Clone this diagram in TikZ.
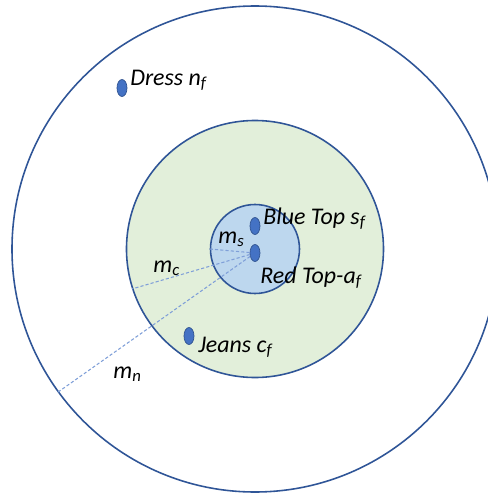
\documentclass[tikz,border=0pt]{standalone}
\usepackage{fontspec}
\setmainfont{Carlito}
\usetikzlibrary{shapes.geometric}

\definecolor{ringblue}{HTML}{2F5597}
\definecolor{ringgreen}{HTML}{E2EFDA}
\definecolor{ringsky}{HTML}{BDD7EE}
\definecolor{dotblue}{HTML}{4472C4}
\definecolor{dotedge}{HTML}{2F528F}
\definecolor{dashblue}{HTML}{7F9FD8}

\begin{document}
\begin{tikzpicture}[
    ring/.style={circle,draw=ringblue,line width=0.9pt,inner sep=0pt},
    item/.style={ellipse,fill=dotblue,draw=dotedge,line width=0.4pt,
        minimum width=0.2cm,minimum height=0.34cm,inner sep=0pt},
    lbl/.style={anchor=base west,inner sep=0pt,
        font=\fontsize{13.6}{16}\selectfont\itshape},
    dashline/.style={dashblue,line width=0.6pt,dash pattern=on 1.8pt off 1.2pt}
]
    \useasboundingbox (-5.1,-4.94) rectangle (4.66,4.98);

    % nested rings
    \node[ring,minimum size=9.72cm] (outer) at (0,0) {};
    \node[ring,fill=ringgreen,minimum size=5.14cm] (middle) at (0,0) {};
    \node[ring,fill=ringsky,minimum size=1.78cm] (inner) at (0,0) {};

    % items
    \node[item] (dress) at (-2.66,3.22) {};
    \node[item] (bluetop) at (0,0.46) {};
    \node[item] (redtop) at (0,-0.08) {};
    \node[item] (jeans) at (-1.32,-1.74) {};

    % distances
    \draw[dashline] (redtop) -- (inner.180);
    \draw[dashline] (redtop) -- (middle.198);
    \draw[dashline] (redtop) -- (outer.216);

    \node[lbl] (dresslbl) at (-2.5,3.28) {Dress n\textsubscript{f}};
    \node[lbl] (bluelbl) at (0.16,0.5) {Blue Top s\textsubscript{f}};
    \node[lbl] (redlbl) at (0.1,-0.68) {Red Top-a\textsubscript{f}};
    \node[lbl] (jeanslbl) at (-1.14,-2.06) {Jeans c\textsubscript{f}};
    \node[lbl] (ms) at (-0.74,0.12) {m\textsubscript{s}};
    \node[lbl] (mc) at (-2.04,-0.46) {m\textsubscript{c}};
    \node[lbl] (mn) at (-2.84,-2.58) {m\textsubscript{n}};
\end{tikzpicture}
\end{document}
